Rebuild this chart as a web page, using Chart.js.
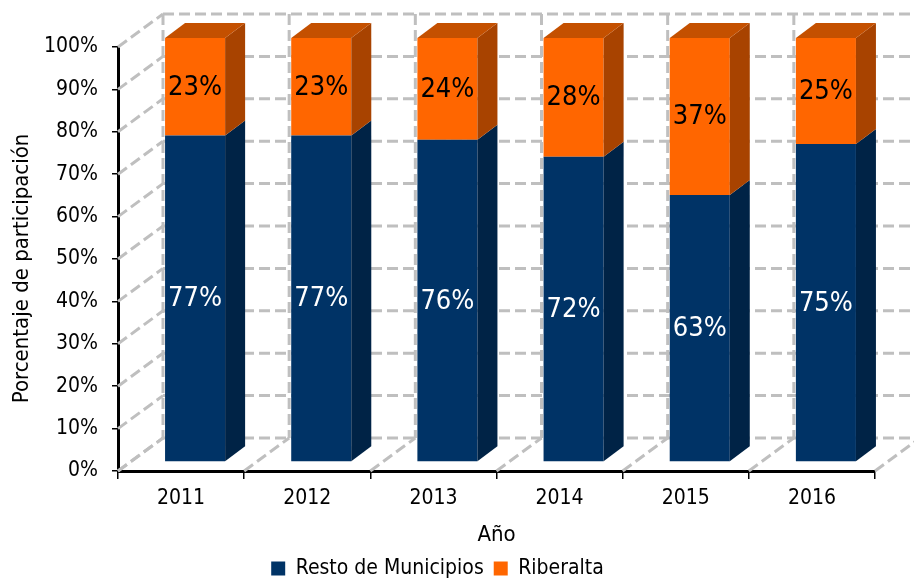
<!DOCTYPE html>
<html>
<head>
<meta charset="utf-8">
<script src="https://cdn.jsdelivr.net/npm/chart.js@4/dist/chart.umd.min.js"></script>
<style>
  html, body { margin: 0; padding: 0; background: #fff; }
</style>
</head>
<body>
<canvas id="chart" width="914" height="581"></canvas>
<script>
const years = ['2011', '2012', '2013', '2014', '2015', '2016'];
const resto = [77, 77, 76, 72, 63, 75];
const riberalta = [23, 23, 24, 28, 37, 25];
const seriesNames = ['Resto de Municipios', 'Riberalta'];

const FONT = "'Liberation Sans Narrow', 'DejaVu Sans Condensed', sans-serif";

// fake 3d: back wall offset, bar position inside the box, bar depth
const WALL_DX = 45, WALL_DY = -33;
const SHIFT_X = 14, SHIFT_Y = -9;
const BAR_DX = 20, BAR_DY = -15;
const PAD_BOTTOM = -8;

function poly(ctx, pts) {
  ctx.beginPath();
  ctx.moveTo(pts[0][0], pts[0][1]);
  for (let i = 1; i < pts.length; i++) ctx.lineTo(pts[i][0], pts[i][1]);
  ctx.closePath();
  ctx.fill();
}

const box3d = {
  id: 'box3d',
  beforeDatasetsDraw(chart) {
    const { ctx, chartArea: a, scales: { x, y } } = chart;
    const line = (x1, y1, x2, y2) => {
      ctx.beginPath(); ctx.moveTo(x1, y1); ctx.lineTo(x2, y2); ctx.stroke();
    };
    ctx.save();
    ctx.strokeStyle = '#bfbfbf';
    ctx.lineWidth = 3;
    ctx.setLineDash([11, 5]);
    y.ticks.forEach(t => {
      const py = y.getPixelForValue(t.value);
      line(a.left, py, a.left + WALL_DX, py + WALL_DY);
      line(a.left + WALL_DX, py + WALL_DY, chart.width, py + WALL_DY);
    });
    const half = (x.getPixelForValue(1) - x.getPixelForValue(0)) / 2;
    for (let i = 0; i <= years.length; i++) {
      const px = x.getPixelForValue(i) - half;
      line(px + WALL_DX, a.top + WALL_DY, px + WALL_DX, a.bottom + WALL_DY);
      line(px, a.bottom, px + WALL_DX, a.bottom + WALL_DY);
    }
    ctx.restore();
    ctx.save();
    ctx.translate(SHIFT_X, SHIFT_Y);
  },
  afterDatasetsDraw(chart) {
    const ctx = chart.ctx;
    const last = chart.data.datasets.length - 1;
    chart.data.datasets.forEach((ds, di) => {
      chart.getDatasetMeta(di).data.forEach(bar => {
        const x1 = bar.x - bar.width / 2, x2 = bar.x + bar.width / 2;
        const top = Math.min(bar.y, bar.base), bot = Math.max(bar.y, bar.base);
        ctx.fillStyle = ds.sideColor;
        poly(ctx, [[x2, bot], [x2, top], [x2 + BAR_DX, top + BAR_DY], [x2 + BAR_DX, bot + BAR_DY]]);
        if (di === last) {
          ctx.fillStyle = ds.topColor;
          poly(ctx, [[x1, top], [x2, top], [x2 + BAR_DX, top + BAR_DY], [x1 + BAR_DX, top + BAR_DY]]);
        }
      });
    });
    ctx.font = '27px ' + FONT;
    ctx.textAlign = 'center';
    ctx.textBaseline = 'middle';
    chart.data.datasets.forEach((ds, di) => {
      ctx.fillStyle = ds.labelColor;
      chart.getDatasetMeta(di).data.forEach((bar, i) => {
        ctx.fillText(ds.data[i] + '%', bar.x, (bar.y + bar.base) / 2 + 1);
      });
    });
    ctx.restore();
  }
};

new Chart(document.getElementById('chart'), {
  type: 'bar',
  data: {
    labels: years,
    datasets: [
      {
        label: seriesNames[0], data: resto,
        backgroundColor: '#003366', sideColor: '#002346', labelColor: '#ffffff',
        borderWidth: 0, clip: false
      },
      {
        label: seriesNames[1], data: riberalta,
        backgroundColor: '#ff6600', sideColor: '#a84300', topColor: '#c45000', labelColor: '#000000',
        borderWidth: 0, clip: false
      }
    ]
  },
  options: {
    responsive: false,
    devicePixelRatio: 1,
    animation: false,
    barPercentage: 0.476,
    categoryPercentage: 1,
    layout: { padding: { top: 47, right: 39, left: 0, bottom: PAD_BOTTOM } },
    plugins: {
      tooltip: { enabled: false },
      legend: {
        position: 'bottom',
        labels: { boxWidth: 14, boxHeight: 14, padding: 10, color: '#000', font: { family: FONT, size: 21 } }
      }
    },
    scales: {
      x: {
        stacked: true,
        grid: { display: true, drawOnChartArea: false, offset: true, color: '#000', lineWidth: 1.5, tickLength: 8 },
        border: { display: true, color: '#000', width: 3 },
        ticks: { color: '#000', padding: 7, font: { family: FONT, size: 21 } },
        title: { display: true, text: 'Año', color: '#000', padding: { top: 17, bottom: 0 }, font: { family: FONT, size: 22 } },
        afterFit(s) { s.height = 581 - PAD_BOTTOM - 471 - s.chart.legend.height; }
      },
      y: {
        stacked: true,
        min: 0, max: 100,
        grid: { display: true, drawOnChartArea: false, color: '#000', lineWidth: 1.5, tickLength: 6 },
        border: { display: true, color: '#000', width: 3 },
        ticks: { stepSize: 10, color: '#000', padding: 14, font: { family: FONT, size: 21 }, callback: v => v + '%' },
        title: { display: true, text: 'Porcentaje de participación\u00a0\u00a0\u00a0', color: '#000', padding: { top: 9, bottom: 0 }, font: { family: FONT, size: 22 } },
        afterFit(s) { s.width = 118; }
      }
    }
  },
  plugins: [box3d]
});
</script>
</body>
</html>
